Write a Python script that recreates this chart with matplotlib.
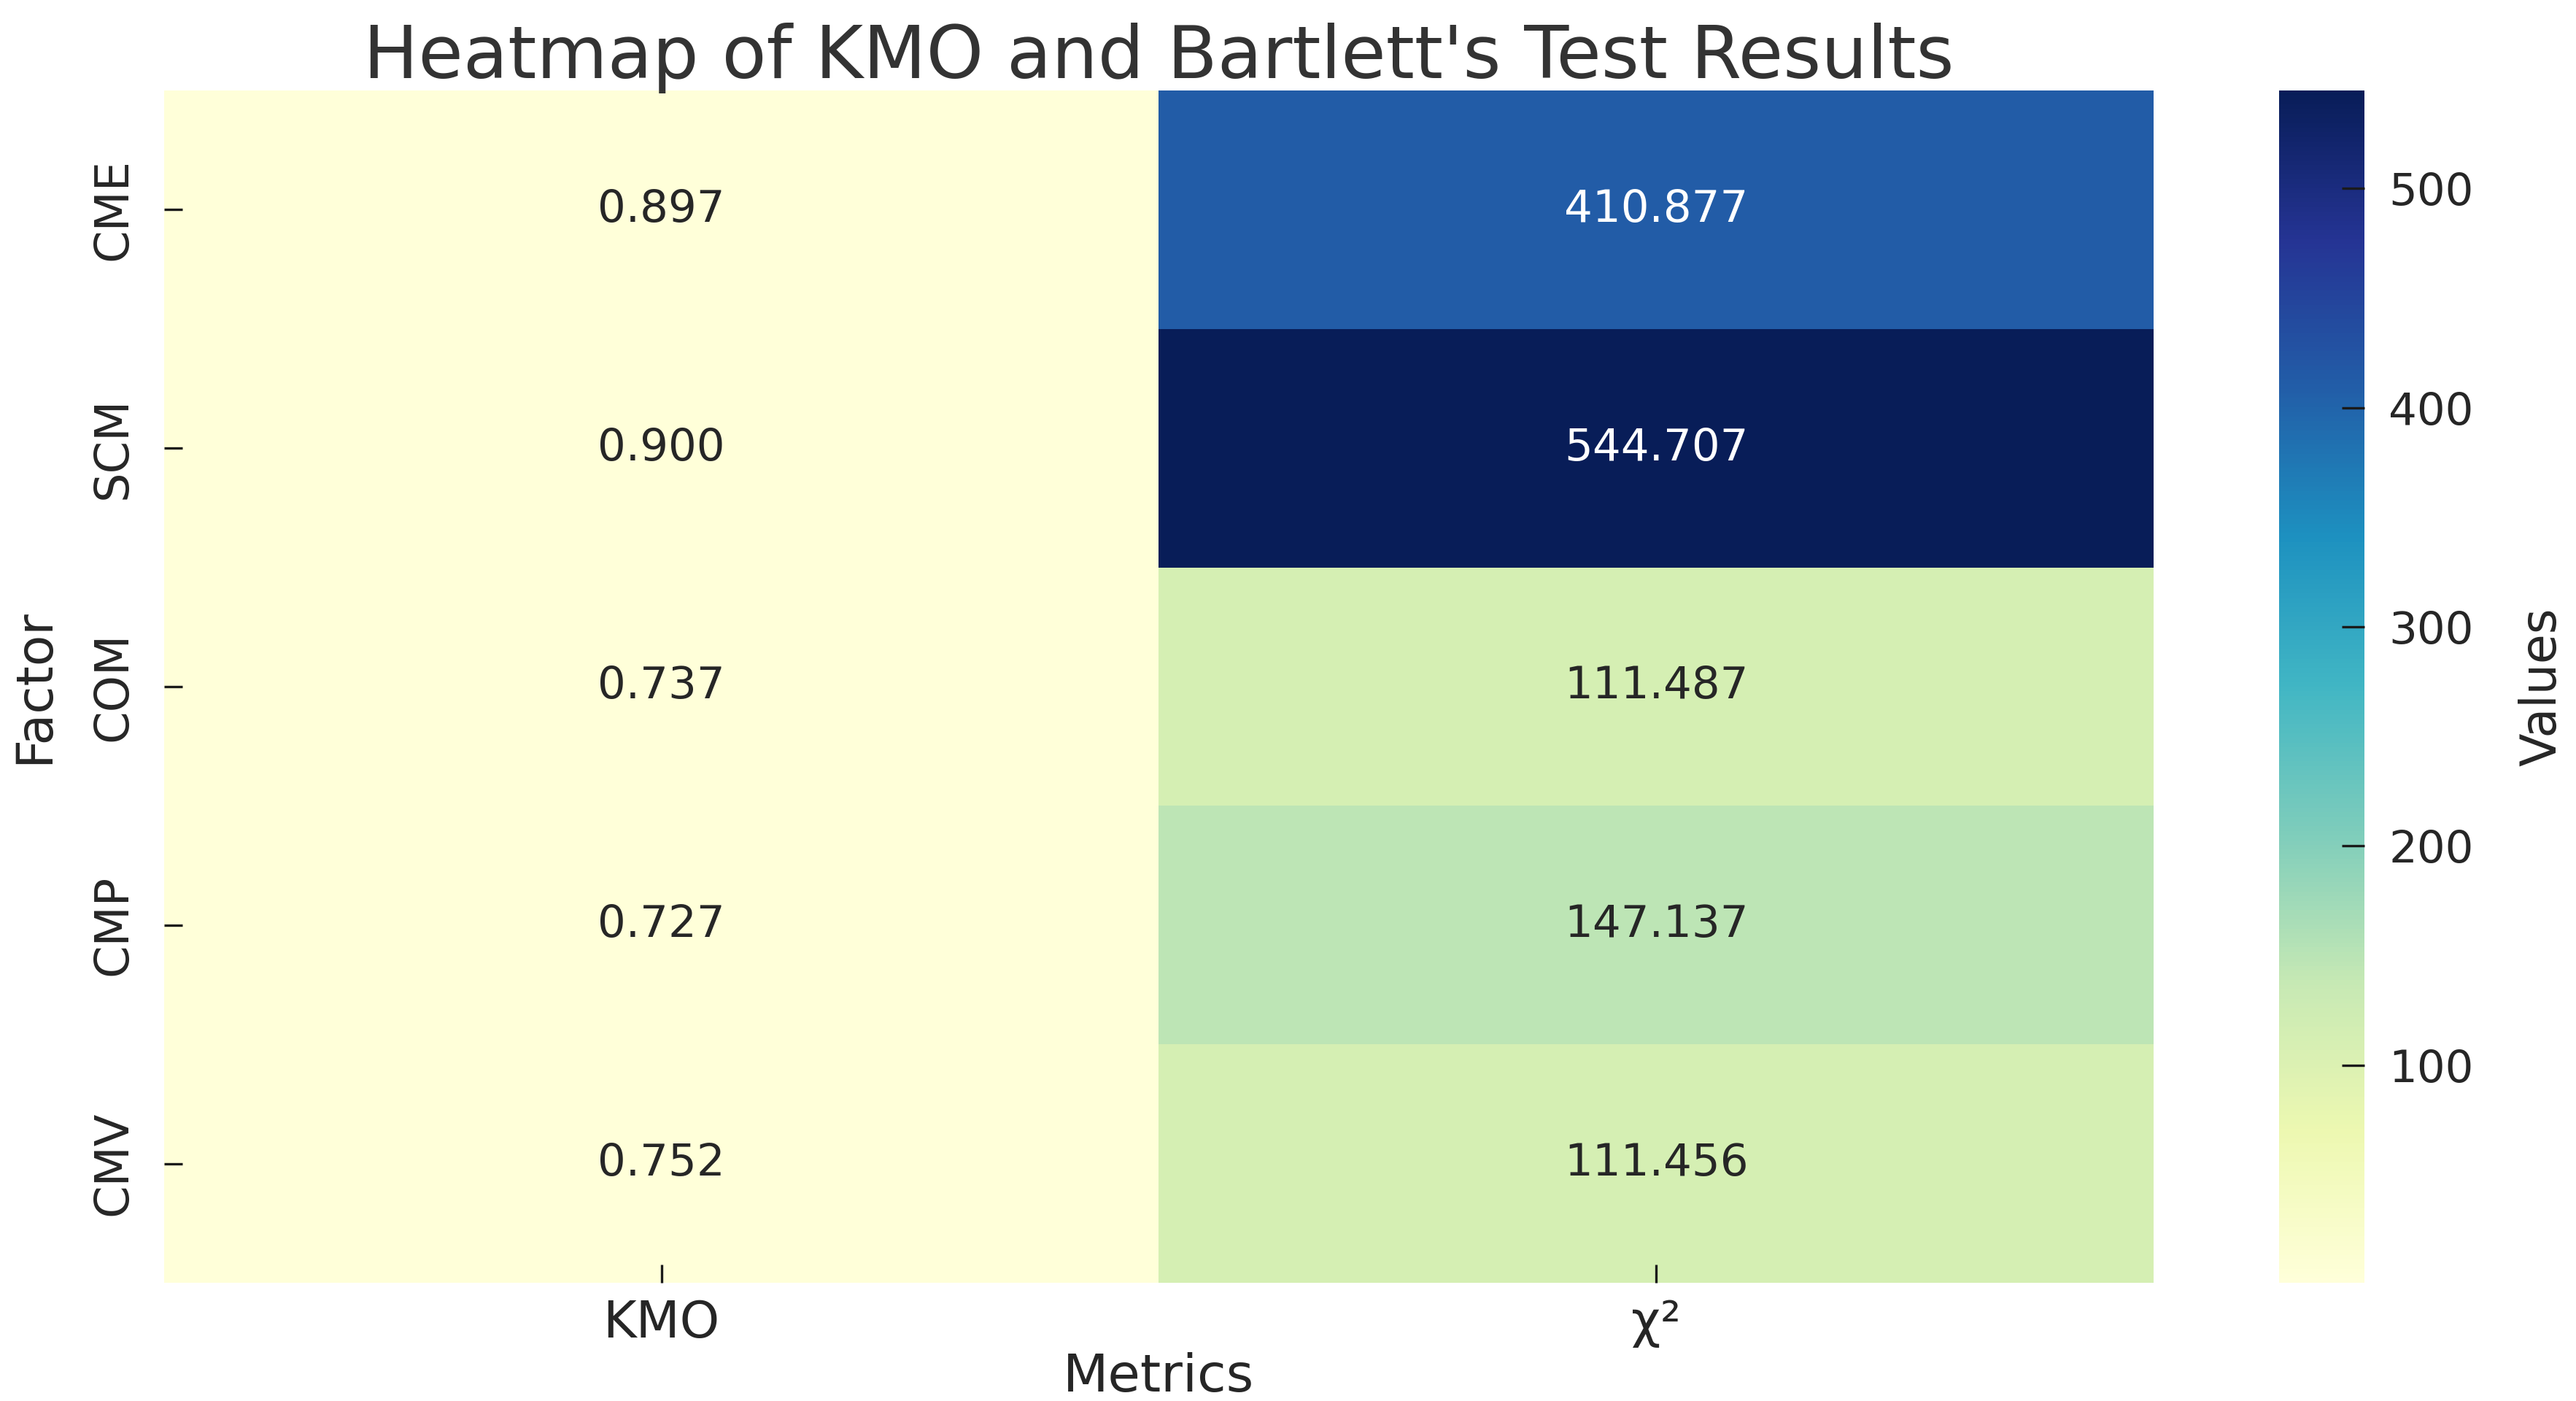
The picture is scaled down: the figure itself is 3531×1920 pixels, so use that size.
import matplotlib
matplotlib.use("Agg")
import matplotlib.pyplot as plt
import seaborn as sns
import numpy as np
import pandas as pd

factors = ["CME", "SCM", "COM", "CMP", "CMV"]
metrics = ["KMO", "χ²"]
kmo_values = [0.897, 0.900, 0.737, 0.727, 0.752]
chi2_values = [410.877, 544.707, 111.487, 147.137, 111.456]

df = pd.DataFrame({metrics[0]: kmo_values, metrics[1]: chi2_values}, index=factors)

sns.set_style("white")
plt.rcParams['font.family'] = ['DejaVu Sans']
plt.rcParams['text.color'] = '#262626'

W, H, DPI = 3531, 1920, 200
fig = plt.figure(figsize=(W / DPI, H / DPI), dpi=DPI)

ax = fig.add_axes([225 / W, 1 - 1758 / H, (2952 - 225) / W, (1758 - 124) / H])
cax = fig.add_axes([3124 / W, 1 - 1758 / H, 117 / W, (1758 - 124) / H])

sns.heatmap(df, annot=True, fmt=".3f", cmap="YlGnBu", ax=ax, cbar_ax=cax,
            annot_kws={"fontsize": 22}, cbar_kws={"label": "Values"})
ax.set_axisbelow(False)
cax.set_axisbelow(False)

ax.set_title("Heatmap of KMO and Bartlett's Test Results", fontsize=36,
             color='#333333', pad=6)
ax.set_xlabel("Metrics", fontsize=26, labelpad=2)
ax.set_ylabel("Factor", fontsize=25, labelpad=16)
ax.tick_params(axis='both', direction='in', length=9, width=1.2,
               color='#1a1a1a', pad=8, left=True, bottom=True)
ax.tick_params(axis='x', labelsize=25)
ax.tick_params(axis='y', labelsize=23, pad=14)
plt.setp(ax.get_yticklabels(), rotation=90, va='center')
plt.setp(ax.get_xticklabels(), rotation=0)

cax.tick_params(direction='in', length=11, width=1.2, color='#1a1a1a',
                labelsize=22, pad=12, right=True)
cax.set_yticks([100, 200, 300, 400, 500])
cax.set_ylabel("Values", fontsize=24, labelpad=22)

fig.savefig("out.png", dpi=DPI)
